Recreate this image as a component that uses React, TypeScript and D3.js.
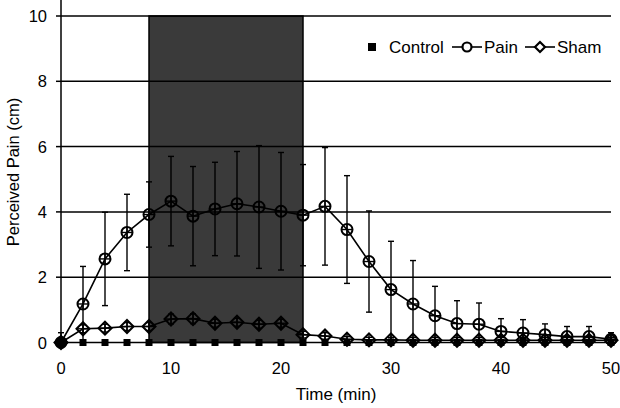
import React from "react";
import * as d3 from "d3";

const times = [0, 2, 4, 6, 8, 10, 12, 14, 16, 18, 20, 22, 24, 26, 28, 30, 32, 34, 36, 38, 40, 42, 44, 46, 48, 50];
const controlValues = times.map(() => 0);
const painValues = [0, 1.18, 2.56, 3.37, 3.92, 4.33, 3.87, 4.09, 4.25, 4.15, 4.02, 3.9, 4.17, 3.46, 2.48, 1.62, 1.18, 0.82, 0.58, 0.56, 0.34, 0.29, 0.24, 0.18, 0.18, 0.1];
const painErrors = [0.3, 1.15, 1.43, 1.17, 1.0, 1.37, 1.52, 1.43, 1.6, 1.88, 1.8, 1.55, 1.8, 1.65, 1.55, 1.48, 1.33, 0.9, 0.7, 0.65, 0.39, 0.41, 0.33, 0.31, 0.31, 0.2];
const shamValues = [0, 0.42, 0.44, 0.49, 0.49, 0.72, 0.73, 0.59, 0.62, 0.56, 0.59, 0.24, 0.2, 0.1, 0.08, 0.08, 0.07, 0.07, 0.07, 0.07, 0.07, 0.07, 0.07, 0.07, 0.07, 0.07];
const shamErrors = [0.1, 0.12, 0.12, 0.12, 0.12, 0.15, 0.15, 0.12, 0.12, 0.12, 0.12, 0.1, 0.1, 0.08, 0.08, 0.08, 0.08, 0.08, 0.08, 0.08, 0.08, 0.08, 0.08, 0.08, 0.08, 0.08];
const xTicks = [0, 10, 20, 30, 40, 50];
const yTicks = [0, 2, 4, 6, 8, 10];
const painPeriod = [8, 22];
const seriesNames = ["Control", "Pain", "Sham"];

const W = 620;
const H = 408;
const FONT = "'Liberation Sans', Arial, Helvetica, sans-serif";

export default function App() {
  const x = d3.scaleLinear().domain([0, 50]).range([61, 611]);
  const y = d3.scaleLinear().domain([0, 10]).range([342.5, 16]);
  const line = d3
    .line<[number, number]>()
    .x((d) => x(d[0]))
    .y((d) => y(d[1]));

  const ctrlPts = times.map((t, i) => [t, controlValues[i]] as [number, number]);
  const painPts = times.map((t, i) => [t, painValues[i]] as [number, number]);
  const shamPts = times.map((t, i) => [t, shamValues[i]] as [number, number]);

  const sw = 1.6;
  const r = 5.5;
  const dm = 6.5;
  const sq = 7;

  const errBar = (t: number, v: number, e: number, key: string) => {
    const lo = Math.max(0, v - e);
    const hi = v + e;
    return (
      <g key={key} stroke="#000" strokeWidth={1.4}>
        <line x1={x(t)} x2={x(t)} y1={y(lo)} y2={y(hi)} />
        <line x1={x(t) - 3} x2={x(t) + 3} y1={y(hi)} y2={y(hi)} />
        {v - e > 0 && <line x1={x(t) - 3} x2={x(t) + 3} y1={y(lo)} y2={y(lo)} />}
      </g>
    );
  };

  const diamondPath = (cx: number, cy: number) =>
    `M${cx},${cy - dm}L${cx + dm},${cy}L${cx},${cy + dm}L${cx - dm},${cy}Z`;

  return (
    <svg width={W} height={H} style={{ position: "absolute", left: 0, top: 0, background: "#fff" }} fontFamily={FONT}>
      <rect x={0} y={0} width={W} height={H} fill="#fff" />
      <rect
        x={x(painPeriod[0])}
        y={y(10)}
        width={x(painPeriod[1]) - x(painPeriod[0])}
        height={y(0) - y(10)}
        fill="#3a3a3a"
        stroke="#000"
        strokeWidth={1.5}
      />
      {yTicks.filter((v) => v > 0).map((v) => (
        <line key={"g" + v} x1={x(0)} x2={x(50)} y1={y(v)} y2={y(v)} stroke="#000" strokeWidth={1.5} />
      ))}
      <line x1={x(0)} x2={x(0)} y1={0} y2={y(0)} stroke="#000" strokeWidth={1.5} />
      {yTicks.map((v) => (
        <g key={"yt" + v}>
          <line x1={x(0) - 5} x2={x(0)} y1={y(v)} y2={y(v)} stroke="#000" strokeWidth={1.5} />
          <text x={47} y={y(v) + 6} textAnchor="end" fontSize={16.5} fill="#000">
            {v}
          </text>
        </g>
      ))}
      {xTicks.map((t) => (
        <text key={"xt" + t} x={x(t)} y={374} textAnchor="middle" fontSize={16.5} fill="#000">
          {t}
        </text>
      ))}
      <text x={336} y={400} textAnchor="middle" fontSize={17} fill="#000">
        Time (min)
      </text>
      <text transform={`translate(19,172) rotate(-90)`} textAnchor="middle" fontSize={16.5} fill="#000">
        Perceived Pain (cm)
      </text>

      {times.map((t, i) => errBar(t, painValues[i], painErrors[i], "pe" + i))}
      {times.map((t, i) => errBar(t, shamValues[i], shamErrors[i], "se" + i))}

      <path d={line(ctrlPts) || ""} fill="none" stroke="#000" strokeWidth={sw} />
      <path d={line(shamPts) || ""} fill="none" stroke="#000" strokeWidth={sw} />
      <path d={line(painPts) || ""} fill="none" stroke="#000" strokeWidth={sw} />

      {ctrlPts.map((p, i) => (
        <rect key={"c" + i} x={x(p[0]) - sq / 2} y={y(p[1]) - sq / 2} width={sq} height={sq} fill="#000" />
      ))}
      {shamPts.map((p, i) => (
        <g key={"s" + i} stroke="#000" strokeWidth={2}>
          <path d={diamondPath(x(p[0]), y(p[1]))} fill={i === 0 ? "#000" : "none"} />
          <line x1={x(p[0]) - dm} x2={x(p[0]) + dm} y1={y(p[1])} y2={y(p[1])} strokeWidth={1.4} />
          <line x1={x(p[0])} x2={x(p[0])} y1={y(p[1]) - dm} y2={y(p[1]) + dm} strokeWidth={1.4} />
        </g>
      ))}
      {painPts.map((p, i) => (
        <g key={"p" + i} stroke="#000" strokeWidth={2}>
          <circle cx={x(p[0])} cy={y(p[1])} r={r} fill={i === 0 ? "#000" : "none"} />
          <line x1={x(p[0]) - r} x2={x(p[0]) + r} y1={y(p[1])} y2={y(p[1])} strokeWidth={1.4} />
          <line x1={x(p[0])} x2={x(p[0])} y1={y(p[1]) - r} y2={y(p[1]) + r} strokeWidth={1.4} />
        </g>
      ))}

      <g>
        <rect x={372 - 4} y={47 - 4} width={8} height={8} fill="#000" />
        <text x={389} y={53} fontSize={17} fill="#000">{seriesNames[0]}</text>
        <line x1={452} x2={482} y1={47} y2={47} stroke="#000" strokeWidth={sw} />
        <circle cx={467} cy={47} r={4.5} fill="#fff" stroke="#000" strokeWidth={2.2} />
        <text x={484} y={53} fontSize={17} fill="#000">{seriesNames[1]}</text>
        <line x1={525} x2={555} y1={47} y2={47} stroke="#000" strokeWidth={sw} />
        <path d={`M540,${47 - 5}L545,47L540,${47 + 5}L535,47Z`} fill="#fff" stroke="#000" strokeWidth={2.2} />
        <text x={557} y={53} fontSize={17} fill="#000">{seriesNames[2]}</text>
      </g>
    </svg>
  );
}
